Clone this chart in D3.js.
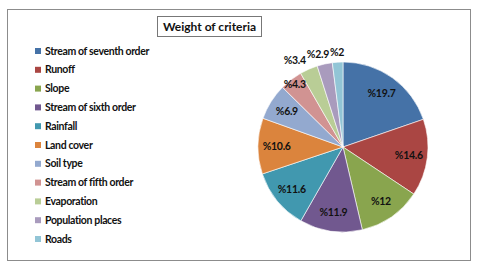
<!DOCTYPE html>
<html>
<head>
<meta charset="utf-8">
<script src="https://cdn.jsdelivr.net/npm/d3@7"></script>
<style>
  body { margin: 0; background: #fff; }
  text { font-family: Lato, "Open Sans", sans-serif; font-weight: bold; fill: #111; }
</style>
</head>
<body>
<div id="chart"></div>
<script>
// criteria and their weights (%)
const criteria = ["Stream of seventh order", "Runoff", "Slope", "Stream of sixth order", "Rainfall",
  "Land cover", "Soil type", "Stream of fifth order", "Evaporation", "Population places", "Roads"];
const weights = [19.7, 14.6, 12, 11.9, 11.6, 10.6, 6.9, 4.3, 3.4, 2.9, 2];
const colors = ["#4572A7", "#AA4643", "#89A54E", "#71588F", "#4198AF", "#DB843D",
  "#93A9CF", "#D19392", "#B9CD96", "#A99BBD", "#92C5D6"];
const title = "Weight of criteria";

const width = 480, height = 271;
const svg = d3.select("#chart").append("svg")
  .attr("width", width).attr("height", height);

// chart frame
svg.append("rect")
  .attr("x", 7.5).attr("y", 9.5)
  .attr("width", 463).attr("height", 251)
  .attr("fill", "#fff").attr("stroke", "#8c8c8c").attr("stroke-width", 1);

// title box
const tg = svg.append("g");
tg.append("rect")
  .attr("x", 157.5).attr("y", 16.5).attr("width", 104).attr("height", 20)
  .attr("fill", "#fff").attr("stroke", "#777");
tg.append("text")
  .attr("x", 209.5).attr("y", 27).attr("dy", "0.35em")
  .attr("text-anchor", "middle").style("font-size", "12px")
  .text(title);

// legend
const legendY = d3.scalePoint().domain(criteria).range([51, 239]);
const legend = svg.append("g").selectAll("g")
  .data(criteria).join("g")
  .attr("transform", d => "translate(35," + legendY(d) + ")");
legend.append("rect")
  .attr("x", 0).attr("y", -3).attr("width", 6).attr("height", 6)
  .attr("fill", (d, i) => colors[i]);
legend.append("text")
  .attr("x", 10).attr("dy", "0.35em")
  .style("font-size", "10.5px").style("letter-spacing", "-0.35px")
  .text(d => d);

// pie
const cx = 343, cy = 147, R = 85;
const pie = d3.pie().sort(null).value(d => d)(weights);
const arc = d3.arc().innerRadius(0).outerRadius(R);
const g = svg.append("g").attr("transform", "translate(" + cx + "," + cy + ")");

g.selectAll("path").data(pie).join("path")
  .attr("d", arc)
  .attr("fill", (d, i) => colors[i])
  .attr("stroke", "#fff").attr("stroke-width", 0.6);

function labelRadius(v) {
  if (v >= 6) return R * 0.78;
  if (v >= 4) return R * 0.93;
  return R * 1.12;
}

const labels = g.selectAll(".lbl").data(pie).join("text")
  .attr("class", "lbl")
  .attr("text-anchor", "middle").attr("dy", "0.35em")
  .style("font-size", "10.5px").style("letter-spacing", "-0.3px")
  .text(d => "%" + d.data);

// initial positions, then push small outside labels apart (right to left)
const pos = pie.map(d => {
  const a = (d.startAngle + d.endAngle) / 2;
  const r = labelRadius(d.data);
  return { x: Math.sin(a) * r, y: -Math.cos(a) * r };
});
const widths = labels.nodes().map(n => n.getComputedTextLength());
for (let i = pie.length - 2; i >= 0; i--) {
  if (labelRadius(pie[i].data) <= R) break;
  const rightEdge = pos[i].x + widths[i] / 2;
  const nextLeft = pos[i + 1].x - widths[i + 1] / 2;
  if (rightEdge > nextLeft - 1) pos[i].x -= rightEdge - nextLeft + 1;
}
labels.attr("transform", (d, i) => "translate(" + pos[i].x + "," + pos[i].y + ")");
</script>
</body>
</html>
